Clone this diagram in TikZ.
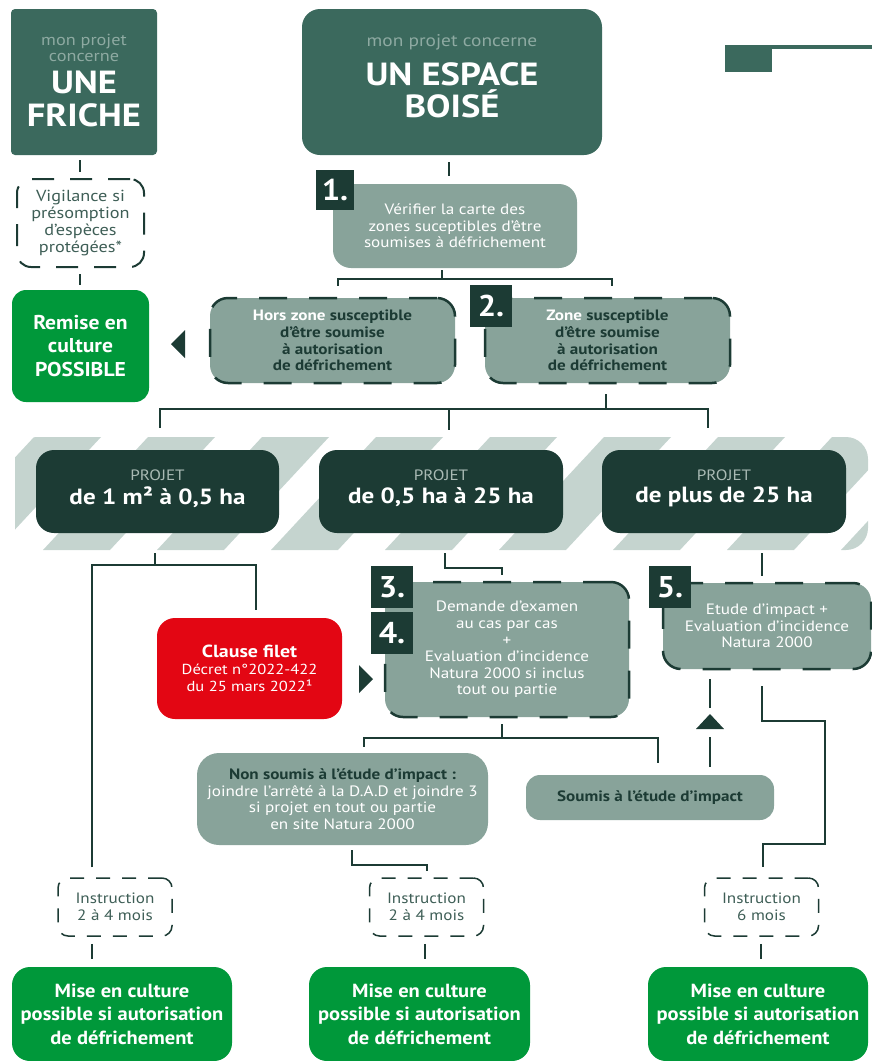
\documentclass[tikz,border=0pt]{standalone}
\usepackage{fontspec}
\setmainfont{PT Sans}[FakeStretch=1.14]
\newfontfamily\condfont{PT Sans}[FakeStretch=1.08]
\usetikzlibrary{calc}
\definecolor{cTeal}{HTML}{3B695D}
\definecolor{cTealTxt}{HTML}{8EAAA2}
\definecolor{cGray}{HTML}{88A39A}
\definecolor{cDark}{HTML}{1C3B34}
\definecolor{cStripe}{HTML}{C5D4CF}
\definecolor{cGreen}{HTML}{00983A}
\definecolor{cRed}{HTML}{E30613}
\definecolor{cProj}{HTML}{A9BAB4}
\definecolor{cInstr}{HTML}{3E5E56}
\begin{document}
\begin{tikzpicture}[x=1pt,y=-1pt,
  tealbox/.style={fill=cTeal,inner sep=0pt},
  graybox/.style={fill=cGray,rounded corners=18pt,inner sep=0pt,align=center,text=white,font=\fontsize{15}{16.6}\selectfont},
  dashbox/.style={graybox,draw=cDark,line width=2.5pt,dash pattern=on 28pt off 22pt},
  greenbox/.style={fill=cGreen,rounded corners=18pt,inner sep=0pt,align=center,text=white,font=\condfont\bfseries\fontsize{19}{23.5}\selectfont},
  darkbox/.style={fill=cDark,rounded corners=18pt,inner sep=0pt},
  marker/.style={fill=cDark,text=white,inner sep=0pt,minimum width=42pt,minimum height=42pt,font=\condfont\bfseries\fontsize{30}{30}\selectfont},
  instrbox/.style={draw=cDark,line width=1.5pt,dash pattern=on 14pt off 12pt,rounded corners=10pt,inner sep=0pt,minimum width=114pt,minimum height=58pt,align=center,text=cInstr,font=\fontsize{15}{16.5}\selectfont},
  conn/.style={draw=cDark,line width=2pt},
  projsub/.style={text=cProj,font=\fontsize{15}{15}\selectfont,inner sep=0pt},
  projtitle/.style={text=white,font=\bfseries\fontsize{22}{22}\selectfont,inner sep=0pt}
]
\useasboundingbox (0,0) rectangle (872,1061);

% top boxes
\node[tealbox,rounded corners=4pt,minimum width=146pt,minimum height=146pt] (friche) at (84,82) {};
\node[text=cTealTxt,align=center,inner sep=0pt,font=\fontsize{16}{16}\selectfont] (frichesub) at (84,48) {mon projet\\concerne};
\node[text=white,align=center,inner sep=0pt,font=\bfseries\fontsize{32}{33}\selectfont] (frichetitle) at (84,99) {UNE\\FRICHE};

\node[tealbox,rounded corners=18pt,minimum width=300pt,minimum height=146pt] (boise) at (452,82) {};
\node[text=cTealTxt,inner sep=0pt,font=\fontsize{17}{17}\selectfont] (boisesub) at (452,42) {mon projet concerne};
\node[text=white,align=center,inner sep=0pt,font=\bfseries\fontsize{32}{32}\selectfont] (boisetitle) at (452,90) {UN ESPACE\\BOISÉ};

\fill[cTeal] (725,45) rectangle (772,72);
\draw[cTeal,line width=3.5pt] (772,47) -- (872,47);

% step 1
\node[graybox,minimum width=244pt,minimum height=84pt] (box1) at (455,226) {Vérifier la carte des\\zones suceptibles d’être\\soumises à défrichement};
\node[marker,minimum width=38pt,minimum height=40pt] (m1) at (335,190) {1.};

% vigilance
\node[instrbox,line width=2pt,dash pattern=on 22pt off 16pt,rounded corners=14pt,minimum width=127pt,minimum height=88pt,font=\fontsize{16}{17}\selectfont] (vig) at (80.5,223) {Vigilance si\\présomption\\d’espèces\\protégées*};

% step 2
\node[dashbox,minimum width=245pt,minimum height=85pt,text=cDark,font=\bfseries\fontsize{15}{16.6}\selectfont] (hors) at (332.5,340.5) {{\color{white}Hors zone} susceptible\\d’être soumise\\à autorisation\\de défrichement};
\node[dashbox,minimum width=245pt,minimum height=85pt,text=cDark,font=\bfseries\fontsize{15}{16.6}\selectfont] (zone) at (607.5,340.5) {{\color{white}Zone} susceptible\\d’être soumise\\à autorisation\\de défrichement};
\node[marker] (m2) at (491,306) {2.};

\node[greenbox,rounded corners=14pt,minimum width=137pt,minimum height=112pt,font=\condfont\bfseries\fontsize{20}{23.5}\selectfont] (remise) at (80.5,346) {Remise en\\culture\\POSSIBLE};
\fill[cDark] (171,344) -- (185,330) -- (185,358) -- cycle;

% band
\begin{scope}
\clip[rounded corners=22pt] (15,437) rectangle (868,550);
\foreach \k in {0,...,8} {
  \fill[cStripe] ({34+114*\k},437) -- ({101+114*\k},437) -- ({-4+114*\k},550) -- ({-71+114*\k},550) -- cycle;
}
\end{scope}

\node[darkbox,minimum width=243pt,minimum height=83pt] (projA) at (157.5,491.5) {};
\node[darkbox,minimum width=244pt,minimum height=83pt] (projB) at (441,491.5) {};
\node[darkbox,minimum width=244pt,minimum height=83pt] (projC) at (724,491.5) {};
\node[projsub] (pAs) at (157.5,475) {PROJET};
\node[projtitle] (pAt) at (157.5,497) {de 1 m² à 0,5 ha};
\node[projsub] (pBs) at (441,475) {PROJET};
\node[projtitle] (pBt) at (441,497) {de 0,5 ha à 25 ha};
\node[projsub] (pCs) at (724,475) {PROJET};
\node[projtitle] (pCt) at (724,497) {de plus de 25 ha};

% steps 3-4
\node[dashbox,minimum width=244pt,minimum height=135pt] (demande) at (507,649.5) {Demande d’examen\\au cas par cas\\+\\Evaluation d’incidence\\Natura 2000 si inclus\\tout ou partie};
\node[marker] (m3) at (392,587) {3.};
\node[marker] (m4) at (392,633) {4.};

\node[fill=cRed,rounded corners=18pt,inner sep=0pt,minimum width=185pt,minimum height=101pt,align=center,text=white,font=\fontsize{14.5}{17}\selectfont] (clause) at (249.5,668.5) {{\bfseries\fontsize{17.5}{17}\selectfont Clause filet}\\Décret n°2022-422\\du 25 mars 2022¹};
\fill[cDark] (373,679) -- (359,665) -- (359,693) -- cycle;

% step 5
\node[dashbox,minimum width=208pt,minimum height=86pt] (etude) at (767,626) {Etude d’impact +\\Evaluation d’incidence\\Natura 2000};
\node[marker] (m5) at (670,587) {5.};

\node[graybox,rounded corners=22pt,minimum width=291pt,minimum height=92pt] (nonsoumis) at (342.5,799) {{\color{cDark}\bfseries Non soumis à l’étude d’impact :}\\joindre l’arrêté à la D.A.D et joindre 3\\si projet en tout ou partie\\en site Natura 2000};
\node[graybox,rounded corners=14pt,minimum width=248pt,minimum height=45pt,text=cDark,font=\bfseries\fontsize{15}{16.6}\selectfont] (soumis) at (650,797.5) {Soumis à l’étude d’impact};
\fill[cDark] (710,714) -- (724,729) -- (696,729) -- cycle;

% instruction
\node[instrbox] (instr1) at (115,907) {Instruction\\2 à 4 mois};
\node[instrbox] (instr2) at (426.5,907) {Instruction\\2 à 4 mois};
\node[instrbox] (instr3) at (761.5,907) {Instruction\\6 mois};

\node[greenbox,minimum width=220pt,minimum height=94pt] (green1) at (122,1014) {Mise en culture\\possible si autorisation\\de défrichement};
\node[greenbox,minimum width=221pt,minimum height=94pt] (green2) at (419.5,1014) {Mise en culture\\possible si autorisation\\de défrichement};
\node[greenbox,minimum width=220pt,minimum height=94pt] (green3) at (758,1014) {Mise en culture\\possible si autorisation\\de défrichement};

% connectors
\draw[conn] ($(friche.south)+(-4,5)$) -- ($(vig.north)+(-0.5,-6)$);
\draw[conn] ($(vig.south)+(-0.5,6)$) -- ($(remise.north)+(-0.5,-5)$);
\draw[conn] ($(boise.south)+(-3,7)$) -- ($(box1.north)+(-6,-8)$);
\draw[conn] ($(box1.south)+(-13,2)$) -- ($(box1.south)+(-13,12)$);
\draw[conn] ($(hors.north)+(5.5,-11)$) |- ($(zone.north)+(4.5,-18)$) -- ($(zone.north)+(4.5,-11)$);
\draw[conn] ($(zone.south)+(-2,10)$) -- ($(zone.south)+(-2,26)$);
\draw[conn] ($(projA.north)+(2.5,-22)$) |- ($(projC.north)+(-16,-41)$) -- ($(projC.north)+(-16,-22)$);
\draw[conn] ($(projB.north)+(8,-41)$) -- ($(projB.north)+(8,-20)$);
\draw[conn] ($(projA.south)+(-2.5,20)$) -- ($(projA.south)+(-2.5,32)$);
\draw[conn] ($(instr1.north)+(-23,-10)$) |- ($(clause.north)+(6.5,-53)$) -- ($(clause.north)+(6.5,-8)$);
\draw[conn] ($(projB.south)+(4,20)$) -- ($(projB.south)+(4,35)$) -| ($(demande.north)+(-5,-6)$);
\draw[conn] ($(projC.south)+(38,20)$) -- ($(etude.north)+(-5,-6)$);
\draw[conn] ($(demande.south)+(-5,6)$) -- ($(demande.south)+(-5,21)$);
\draw[conn] ($(nonsoumis.north)+(21.5,-6)$) |- ($(soumis.north)+(8,-37)$) -- ($(soumis.north)+(8,-12)$);
\draw[conn] ($(soumis.north)+(60,-8)$) -- ($(soumis.north)+(60,-38)$);
\draw[conn] ($(etude.south)+(-57,9)$) -- ($(etude.south)+(-57,38)$);
\draw[conn] ($(etude.south)+(-5,16)$) |- ($(etude.south)+(58,51)$) |- ($(instr3.north)+(1.5,-33)$) -- ($(instr3.north)+(1.5,-10)$);
\draw[conn] ($(nonsoumis.south)+(9.5,5)$) |- ($(instr2.north)+(0.5,-12)$) -- ($(instr2.north)+(0.5,-6)$);
\draw[conn] ($(instr1.south)+(-23,7)$) -- ($(green1.north)+(-30,-8)$);
\draw[conn] ($(instr2.south)+(-1.5,7)$) -- ($(green2.north)+(5.5,-8)$);
\draw[conn] ($(instr3.south)+(-0.5,7)$) -- ($(green3.north)+(3,-8)$);
\end{tikzpicture}
\end{document}
